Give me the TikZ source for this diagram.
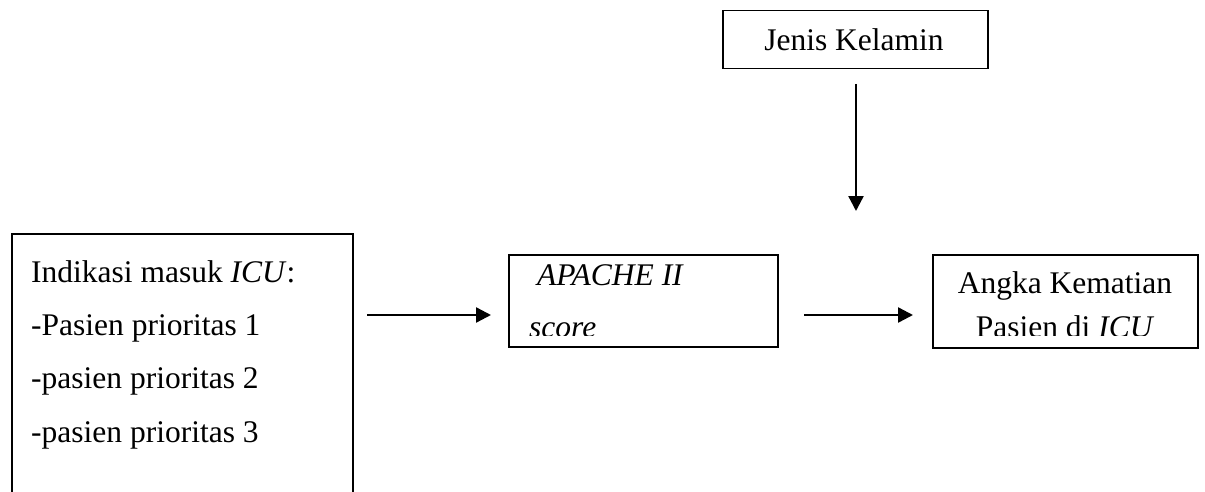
\documentclass[tikz,border=0pt]{standalone}
\usepackage{fontspec}
\setmainfont{Liberation Serif}
\usetikzlibrary{arrows.meta}
\tikzset{
  box/.style={draw=black, line width=1.5pt, rectangle, inner sep=0pt, anchor=north west},
  lbl/.style={inner sep=0pt, font=\fontsize{31.5}{36}\selectfont},
  conn/.style={line width=2.4pt, -{Triangle[length=15pt,width=15pt]}}
}
\begin{document}
\begin{tikzpicture}[x=1pt,y=-1pt]
\useasboundingbox (0,0) rectangle (1205,492);
% boxes
\node[box, minimum width=341pt, minimum height=290pt] (ind) at (11,233) {};
\node[box, minimum width=269pt, minimum height=92pt] (apache) at (508,254) {};
\node[box, minimum width=265pt, minimum height=93pt] (angka) at (932,254) {};
\node[box, minimum width=265pt, minimum height=58pt] (jenis) at (722,10) {};
% texts
\node[lbl, anchor=base west] (t1) at (31,282) {Indikasi masuk \textit{ICU}:};
\node[lbl, anchor=base west] (t2) at (31,335) {-Pasien prioritas 1};
\node[lbl, anchor=base west] (t3) at (31,388) {-pasien prioritas 2};
\node[lbl, anchor=base west] (t4) at (31,442) {-pasien prioritas 3};
\node[lbl, anchor=base] (tj) at (854,51) {Jenis Kelamin};
\begin{scope}
  \clip (509,255) rectangle (776,335.5);
  \node[lbl, anchor=base west] (ta1) at (537,285) {\textit{APACHE II}};
  \node[lbl, anchor=base west] (ta2) at (529,337) {\textit{score}};
\end{scope}
\begin{scope}
  \clip (933,255) rectangle (1196,335.5);
  \node[lbl, anchor=base] (tk1) at (1065,293) {Angka Kematian};
  \node[lbl, anchor=base] (tk2) at (1065,337) {Pasien di \textit{ICU}};
\end{scope}
% connectors
\coordinate (a1s) at (367,315);
\coordinate (a1e) at (491,315);
\coordinate (a2s) at (804,315);
\coordinate (a2e) at (913,315);
\coordinate (vs) at (856,84);
\coordinate (ve) at (856,211);
\draw[conn] (a1s) -- (a1e);
\draw[conn] (a2s) -- (a2e);
\draw[conn] (vs) -- (ve);
\end{tikzpicture}
\end{document}
